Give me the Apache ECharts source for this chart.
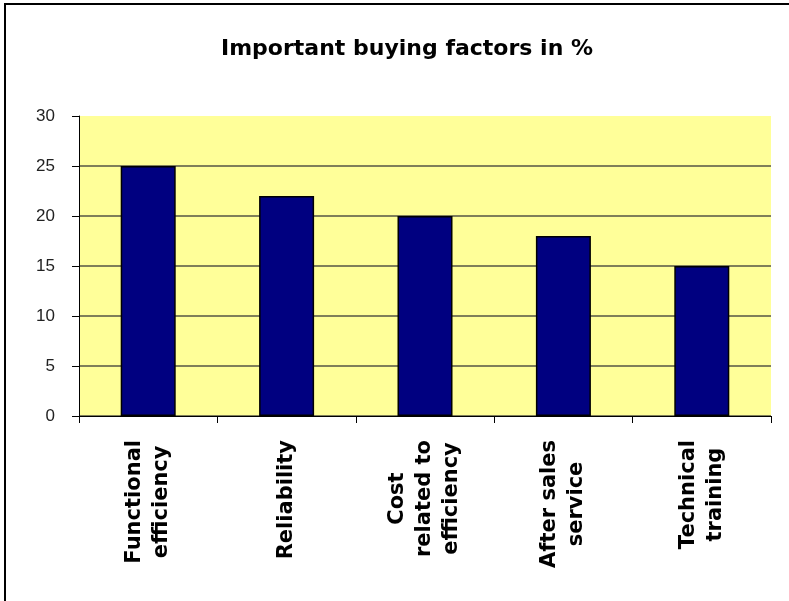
<!DOCTYPE html>
<html>
<head>
<meta charset="utf-8">
<script src="https://cdn.jsdelivr.net/npm/echarts@6/dist/echarts.min.js"></script>
<style>
  html, body { margin: 0; padding: 0; background: #fff; }
  #chart { width: 789px; height: 601px; }
</style>
</head>
<body>
<div id="chart"></div>
<script>
// Survey data: share of respondents naming each buying factor
var categories = [
  'Functional\nefficiency',
  'Reliability',
  'Cost\nrelated to\nefficiency',
  'After sales\nservice',
  'Technical\ntraining'
];
var shares = [25, 22, 20, 18, 15];
var yTicks = { min: 0, max: 30, step: 5 };

var chart = echarts.init(document.getElementById('chart'), null, { renderer: 'canvas' });

// Each line of a category name gets its own rich token so the lines are centred on each other
function centredLines(name) {
  return name.split('\n').map(function (line) { return '{c|' + line + '}'; }).join('\n');
}

chart.setOption({
  backgroundColor: '#ffffff',
  animation: false,
  title: {
    text: 'Important buying factors in %',
    left: 402,
    top: 33,
    textAlign: 'center',
    textStyle: {
      fontFamily: 'DejaVu Sans',
      fontWeight: 'bold',
      fontSize: 22,
      color: '#000'
    }
  },
  graphic: [{
    type: 'rect',
    shape: { x: 5, y: 4, width: 900, height: 700 },
    style: { fill: 'none', stroke: '#000', lineWidth: 2 },
    silent: true,
    z: 100
  }],
  grid: {
    left: 79,
    top: 116,
    right: 18,
    bottom: 185,
    show: true,
    backgroundColor: '#ffff99',
    borderWidth: 0
  },
  xAxis: {
    type: 'category',
    data: categories,
    boundaryGap: true,
    axisLine: { show: true, lineStyle: { color: '#000', width: 1 } },
    axisTick: { show: true, length: 7, alignWithLabel: false, lineStyle: { color: '#000', width: 1 } },
    axisLabel: {
      rotate: 90,
      margin: 24,
      interval: 0,
      formatter: centredLines,
      rich: {
        c: {
          align: 'center',
          fontFamily: 'DejaVu Sans',
          fontWeight: 'bold',
          fontSize: 21,
          lineHeight: 27,
          color: '#000'
        }
      }
    },
    splitLine: { show: false }
  },
  yAxis: {
    type: 'value',
    min: yTicks.min,
    max: yTicks.max,
    interval: yTicks.step,
    axisLine: { show: true, lineStyle: { color: '#000', width: 1 } },
    axisTick: { show: true, length: 7, lineStyle: { color: '#000', width: 1 } },
    axisLabel: {
      margin: 24,
      fontFamily: 'Liberation Sans',
      fontSize: 17,
      color: '#222'
    },
    splitLine: {
      show: true,
      showMaxLine: false,
      lineStyle: { color: '#555544', width: 1.5 }
    }
  },
  series: [{
    type: 'bar',
    data: shares,
    barWidth: 55,
    itemStyle: {
      color: '#000080',
      borderColor: '#000',
      borderWidth: 1.5
    }
  }]
});
</script>
</body>
</html>
